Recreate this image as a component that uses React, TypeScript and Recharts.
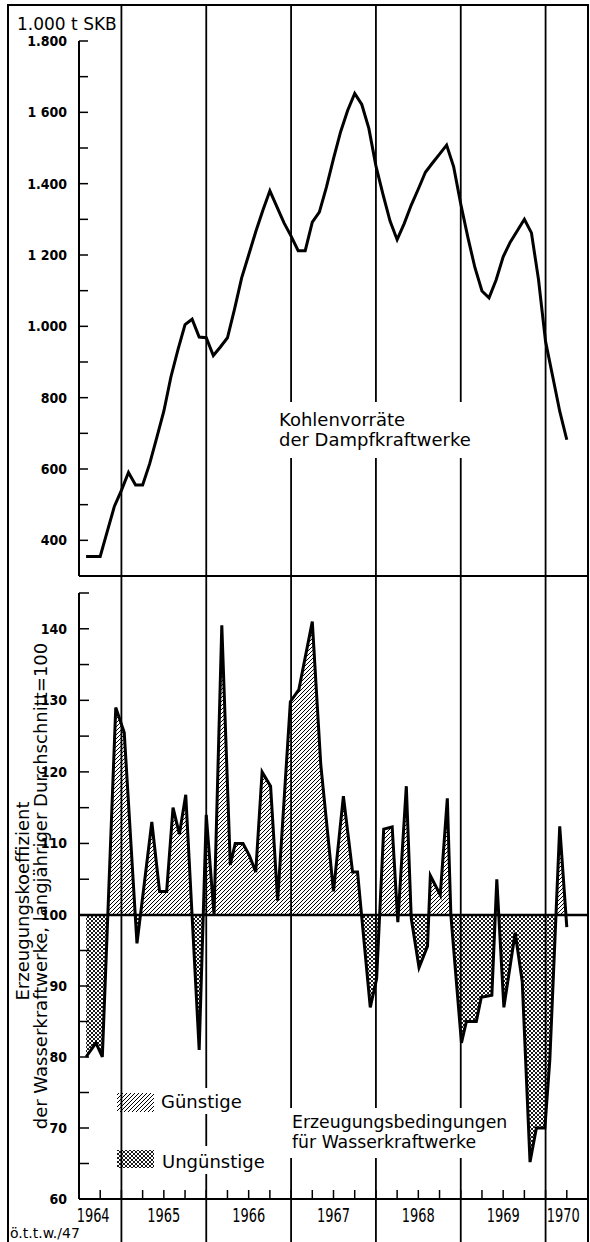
import React from "react";
import { LineChart, Line, AreaChart, Area, XAxis, YAxis, ReferenceLine } from "recharts";

// Kohlenvorräte der Dampfkraftwerke (1.000 t SKB), Monatswerte; Monat 0 = Juli 1964
const coalValues = [
  355, 355, 355, 425, 495, 540, 590, 555, 555, 615,
  688, 762, 858, 935, 1005, 1020, 970, 968, 918, 942,
  968, 1048, 1135, 1200, 1265, 1325, 1380, 1335, 1290, 1253,
  1212, 1212, 1292, 1320, 1390, 1470, 1545, 1605, 1653, 1622,
  1555, 1450, 1370, 1295, 1243, 1288, 1340, 1385, 1432, 1458,
  1483, 1508, 1447, 1343, 1250, 1165, 1099, 1080, 1130, 1195,
  1236, 1268, 1300, 1262, 1131, 957, 860, 762, 682,
];
const coalData = coalValues.map((v, i) => ({ m: i + 1, v }));

// Erzeugungskoeffizient der Wasserkraftwerke (langjähriger Durchschnitt = 100)
const hydroMonths = [
  1.0, 2.4, 3.3, 5.2, 6.4, 8.2, 10.3, 11.4, 12.4, 13.3,
  14.2, 15.1, 17.0, 18.0, 19.1, 20.2, 21.4, 22.1, 23.2, 24.1,
  25.0, 25.9, 27.1, 28.1, 29.9, 31.1, 33.0, 34.2, 36.0, 37.4,
  38.7, 39.4, 41.2, 42.1, 43.1, 44.3, 45.1, 46.3, 47.0, 48.1,
  49.3, 49.7, 51.1, 52.1, 52.6, 54.1, 54.8, 56.2, 56.9, 58.4,
  59.1, 60.1, 61.7, 62.7, 63.8, 64.7, 65.9, 66.6, 68.0, 69.0,
];
const hydroValues = [
  80, 82, 80, 129, 125.5, 96, 113, 103.3, 103.3, 115,
  111.3, 116.8, 81, 114, 100, 140.5, 107, 110, 110, 108.3,
  106, 120, 118, 102, 129.8, 131.5, 141, 121, 103.3, 116.6,
  106, 106, 87, 91, 112, 112.3, 99, 118, 99.5, 92.6,
  95.6, 105.5, 102.8, 116.3, 100, 82, 85, 85, 88.4, 88.7,
  105, 87, 97.5, 90.6, 65.2, 70, 70, 79.6, 112.4, 98.3,
];
const hydroData = hydroMonths.map((m, i) => ({ m, v: hydroValues[i] }));

const yearBounds = [6, 18, 30, 42, 54, 66];
const quarterTicks = [3, 6, 9, 12, 15, 18, 21, 24, 27, 30, 33, 36, 39, 42, 45, 48, 51, 54, 57, 60, 63, 66, 69];
const yearLabelPos = [2, 12, 24, 36, 48, 60, 68.5];
const yearLabelText = ["1964", "1965", "1966", "1967", "1968", "1969", "1970"];

const coalTicks = [400, 500, 600, 700, 800, 900, 1000, 1100, 1200, 1300, 1400, 1500, 1600, 1700, 1800];
const coalLabels: Record<number, string> = {
  400: "400", 600: "600", 800: "800", 1000: "1.000", 1200: "1 200", 1400: "1.400", 1600: "1 600", 1800: "1.800",
};
const hydroUpperTicks = [105, 110, 115, 120, 125, 130, 135, 140, 145];
const hydroLowerTicks = [60, 65, 70, 75, 80, 85, 90, 95, 100];

const W = 590;
const AXIS_W = 79;
const M_RIGHT = 2;
const X_DOMAIN: [number, number] = [0, 72];

const tickFont = {
  fill: "#000",
  fontSize: 14,
  fontWeight: 700,
  fontFamily: '"Liberation Sans Narrow", "DejaVu Sans Condensed", sans-serif',
};
const textFont = '"DejaVu Sans", sans-serif';

const bottomTicks = Array.from(new Set([...yearLabelPos, ...quarterTicks])).sort((a, b) => a - b);

const BottomTick = (props: any) => {
  const { x, y, payload } = props;
  const m = payload.value;
  const li = yearLabelPos.indexOf(m);
  return (
    <g>
      {quarterTicks.includes(m) && <line x1={x} y1={y} x2={x} y2={y - 9} stroke="#000" strokeWidth={1.5} />}
      {li >= 0 && (
        <text x={x} y={y + 23} textAnchor="middle" fontSize={19} fill="#000" textLength={33}
          lengthAdjust="spacingAndGlyphs" fontFamily='"DejaVu Sans Condensed", sans-serif'>
          {yearLabelText[li]}
        </text>
      )}
    </g>
  );
};

const hatchPath = "M-1,1 l2,-2 M0,4 l4,-4 M3,5 l2,-2";
const crossPath = "M-1,1 l2,-2 M0,4 l4,-4 M3,5 l2,-2 M-1,3 l2,2 M0,0 l4,4 M3,-1 l2,2";

const Pattern = ({ id, d, w }: { id: string; d: string; w: number }) => (
  <pattern id={id} patternUnits="userSpaceOnUse" width={4} height={4}>
    <path d={d} stroke="#000" strokeWidth={w} />
  </pattern>
);

export default function App() {
  return (
    <div style={{ position: "absolute", left: 0, top: 0, width: W, height: 1242, background: "#fff", overflow: "hidden" }}>
      {/* Jahresgrenzen über die ganze Höhe */}
      <div style={{ position: "absolute", left: 0, top: 0 }}>
        <LineChart width={W} height={1242} data={yearBounds.map((m) => ({ m, y: 0.5 }))}
          margin={{ top: 5, right: M_RIGHT, bottom: 0, left: AXIS_W }}>
          <XAxis type="number" dataKey="m" domain={X_DOMAIN} allowDataOverflow hide />
          <YAxis type="number" domain={[0, 1]} allowDataOverflow hide />
          {yearBounds.map((m) => (
            <ReferenceLine key={m} x={m} stroke="#000" strokeWidth={1.8} ifOverflow="visible" />
          ))}
        </LineChart>
      </div>

      <div style={{ position: "absolute", left: 7, top: 4, width: 582, height: 1250, boxSizing: "border-box",
        borderLeft: "2px solid #000", borderTop: "2px solid #000", borderRight: "2px solid #000" }} />

      {/* Kohlenvorräte */}
      <div style={{ position: "absolute", left: 0, top: 0 }}>
        <LineChart width={W} height={600} data={coalData} margin={{ top: 41, right: M_RIGHT, bottom: 23, left: 0 }}>
          <XAxis type="number" dataKey="m" domain={X_DOMAIN} ticks={quarterTicks} interval={0} height={1}
            tick={false} tickSize={-9} tickLine={{ stroke: "#000", strokeWidth: 1.5 }}
            axisLine={{ stroke: "#000", strokeWidth: 2 }} />
          <YAxis width={AXIS_W} domain={[300, 1800]} ticks={coalTicks} interval={0} tickSize={-9} tickMargin={21}
            tickFormatter={(v) => coalLabels[v] ?? ""} tick={tickFont}
            tickLine={{ stroke: "#000", strokeWidth: 1.5 }} axisLine={{ stroke: "#000", strokeWidth: 2 }} />
          <Line type="linear" dataKey="v" stroke="#000" strokeWidth={3} dot={false} activeDot={false}
            isAnimationActive={false} />
        </LineChart>
      </div>

      {/* Erzeugungskoeffizient über 100 */}
      <div style={{ position: "absolute", left: 0, top: 583 }}>
        <AreaChart width={W} height={332} data={hydroData} margin={{ top: 10, right: M_RIGHT, bottom: 0, left: 0 }}>
          <defs>
            <Pattern id="hatchUp" d={hatchPath} w={1} />
          </defs>
          <XAxis type="number" dataKey="m" domain={X_DOMAIN} hide />
          <YAxis width={AXIS_W} domain={[100, 145]} allowDataOverflow ticks={hydroUpperTicks} interval={0}
            tickSize={-10} tickMargin={22} tickFormatter={(v) => (v % 10 === 0 ? String(v) : "")} tick={tickFont}
            tickLine={{ stroke: "#000", strokeWidth: 1.5 }} axisLine={{ stroke: "#000", strokeWidth: 2 }} />
          <Area type="linear" dataKey="v" baseValue={100} stroke="#000" strokeWidth={3} fill="url(#hatchUp)"
            fillOpacity={1} dot={false} activeDot={false} isAnimationActive={false} />
        </AreaChart>
      </div>

      {/* Erzeugungskoeffizient unter 100 */}
      <div style={{ position: "absolute", left: 0, top: 905 }}>
        <AreaChart width={W} height={334} data={hydroData} margin={{ top: 10, right: M_RIGHT, bottom: 0, left: 0 }}>
          <defs>
            <Pattern id="crossDown" d={crossPath} w={0.9} />
          </defs>
          <XAxis type="number" dataKey="m" domain={X_DOMAIN} ticks={bottomTicks} interval={0} height={40}
            tickSize={0} tickMargin={0} tickLine={false} tick={<BottomTick />}
            axisLine={{ stroke: "#000", strokeWidth: 2 }} />
          <YAxis width={AXIS_W} domain={[60, 100]} allowDataOverflow ticks={hydroLowerTicks} interval={0}
            tickSize={-10} tickMargin={22} tickFormatter={(v) => (v % 10 === 0 ? String(v) : "")} tick={tickFont}
            tickLine={{ stroke: "#000", strokeWidth: 1.5 }} axisLine={{ stroke: "#000", strokeWidth: 2 }} />
          <Area type="linear" dataKey="v" baseValue={100} stroke="#000" strokeWidth={3} fill="url(#crossDown)"
            fillOpacity={1} dot={false} activeDot={false} isAnimationActive={false} />
          <ReferenceLine y={100} stroke="#000" strokeWidth={2.5} />
        </AreaChart>
      </div>

      {/* Beschriftungen */}
      <svg width={W} height={1242} style={{ position: "absolute", left: 0, top: 0, pointerEvents: "none" }}
        fontFamily={textFont} fill="#000">
        <defs>
          <Pattern id="lgHatch" d={hatchPath} w={1} />
          <Pattern id="lgCross" d={crossPath} w={0.9} />
        </defs>
        <text x={17} y={30} fontSize={17}>1.000 t SKB</text>

        <rect x={276} y={402} width={202} height={56} fill="#fff" />
        <text x={279} y={426} fontSize={18}>Kohlenvorräte</text>
        <text x={279} y={446} fontSize={18}>der Dampfkraftwerke</text>

        <rect x={288} y={1108} width={224} height={50} fill="#fff" />
        <text x={292} y={1128} fontSize={17.3}>Erzeugungsbedingungen</text>
        <text x={292} y={1148} fontSize={17.3}>für Wasserkraftwerke</text>

        <rect x={156} y={1088} width={90} height={26} fill="#fff" />
        <rect x={117} y={1093} width={37} height={19} fill="url(#lgHatch)" />
        <text x={161} y={1108} fontSize={18}>Günstige</text>
        <rect x={156} y={1146} width={114} height={28} fill="#fff" />
        <rect x={117} y={1150} width={37} height={18} fill="url(#lgCross)" />
        <text x={162} y={1168} fontSize={18}>Ungünstige</text>

        <text x={29} y={901} fontSize={18} textAnchor="middle" transform="rotate(-90 29 901)">
          Erzeugungskoeffizient
        </text>
        <text x={47} y={886} fontSize={18} textAnchor="middle" transform="rotate(-90 47 886)">
          der Wasserkraftwerke, langjähriger Durchschnitt=100
        </text>

        <text x={10} y={1238} fontSize={14}>ö.t.t.w./47</text>
      </svg>
    </div>
  );
}
